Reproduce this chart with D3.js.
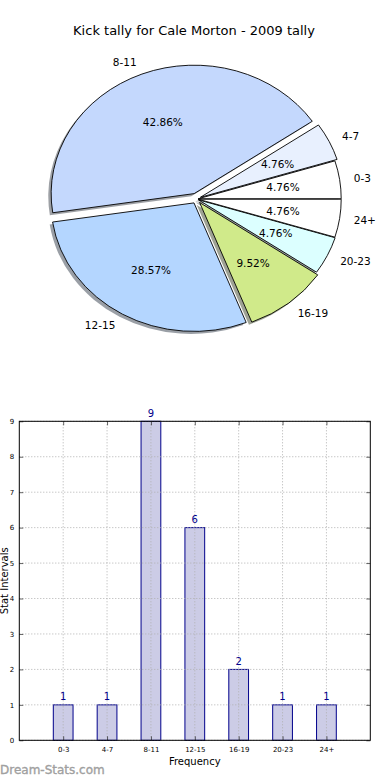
<!DOCTYPE html>
<html><head><meta charset="utf-8">
<script src="https://cdn.jsdelivr.net/npm/d3@7"></script>
<style>
html,body{margin:0;padding:0;background:#fff;}
svg{display:block;font-family:"DejaVu Sans",sans-serif;}
</style></head>
<body>
<svg id="c" width="390" height="780"></svg>
<script>
const title = "Kick tally for Cale Morton - 2009 tally";
const categories = ["0-3","4-7","8-11","12-15","16-19","20-23","24+"];
const values = [1,1,9,6,2,1,1];
const pieColors = ["#ffffff","#e8f0fe","#c4d8fd","#b4d6ff","#d0ea8a","#dcffff","#ffffff"];
const explode = [0.012,0.03,0.045,0.035,0.035,0.015,0.012];
const yTicks = [0,1,2,3,4,5,6,7,8,9];
const xLabel = "Frequency";
const yLabel = "Stat Intervals";
const watermark = "Dream-Stats.com";

const svg = d3.select("#c");

// ---------- Title ----------
svg.append("text").attr("x",194).attr("y",30).attr("text-anchor","middle")
  .attr("dominant-baseline","central").attr("font-size",13).attr("fill","#000").text(title);

// ---------- Pie ----------
const cx = 196.5, cy = 199, rx = 143, ry = 128.5;
const total = d3.sum(values);
const pie = d3.pie().sort(null).value(d=>d).startAngle(Math.PI/2).endAngle(Math.PI/2 - 2*Math.PI);
const arcs = pie(values);
const arcGen = d3.arc().innerRadius(0).outerRadius(1);
const pg = svg.append("g");

function off(a, k){ return [Math.sin(a)*k*rx, -Math.cos(a)*k*ry]; }

// shadows first
arcs.forEach((d,i)=>{
  const a = (d.startAngle + d.endAngle)/2;
  const o = off(a, explode[i]);
  const c = d3.rgb(pieColors[i]);
  const sc = d3.rgb(c.r*0.3, c.g*0.3, c.b*0.3);
  pg.append("path")
    .attr("transform",`translate(${cx+o[0]-0.02*rx},${cy+o[1]+0.02*ry}) scale(${rx},${ry})`)
    .attr("d", arcGen({startAngle:Math.min(d.startAngle,d.endAngle), endAngle:Math.max(d.startAngle,d.endAngle)}))
    .attr("fill", sc.toString()).attr("fill-opacity",0.5);
});
arcs.forEach((d,i)=>{
  const a = (d.startAngle + d.endAngle)/2;
  const o = off(a, explode[i]);
  pg.append("path")
    .attr("transform",`translate(${cx+o[0]},${cy+o[1]}) scale(${rx},${ry})`)
    .attr("d", arcGen({startAngle:Math.min(d.startAngle,d.endAngle), endAngle:Math.max(d.startAngle,d.endAngle)}))
    .attr("fill", pieColors[i]).attr("stroke","#000").attr("stroke-width",0.9)
    .attr("stroke-linejoin","round")
    .attr("vector-effect","non-scaling-stroke");
});
arcs.forEach((d,i)=>{
  const a = (d.startAngle + d.endAngle)/2;
  const lp = off(a, explode[i] + 1.1);
  const pp = off(a, explode[i] + 0.6);
  pg.append("text").attr("x",cx+lp[0]).attr("y",cy+lp[1])
    .attr("text-anchor", Math.sin(a) > 0 ? "start" : "end")
    .attr("dominant-baseline","central").attr("font-size",10.5).text(categories[i]);
  pg.append("text").attr("x",cx+pp[0]).attr("y",cy+pp[1])
    .attr("text-anchor","middle")
    .attr("dominant-baseline","central").attr("font-size",10.5)
    .text((values[i]/total*100).toFixed(2)+"%");
});

// ---------- Bar chart ----------
const L = 19.3, R = 370.3, T = 421.3, B = 740.3;
const x = d3.scaleLinear().domain([-1, categories.length]).range([L, R]);
const y = d3.scaleLinear().domain([0, 9]).range([B, T]);
const bw = 0.45;
const bg = svg.append("g");

bg.selectAll("rect.bar").data(values).join("rect").attr("class","bar")
  .attr("x",(d,i)=>x(i - bw/2)).attr("width",(d,i)=>x(i+bw/2)-x(i-bw/2))
  .attr("y",d=>y(d)).attr("height",d=>y(0)-y(d))
  .attr("fill","#cccce6").attr("stroke","#00008b").attr("stroke-width",1);

// grid
const grid = bg.append("g").attr("stroke","#b0b0b0").attr("stroke-width",1).attr("stroke-dasharray","1,2");
grid.selectAll("line.v").data(categories).join("line")
  .attr("x1",(d,i)=>x(i)).attr("x2",(d,i)=>x(i)).attr("y1",T).attr("y2",B);
grid.selectAll("line.h").data(yTicks).join("line")
  .attr("x1",L).attr("x2",R).attr("y1",d=>y(d)).attr("y2",d=>y(d));

// value labels
bg.selectAll("text.val").data(values).join("text").attr("class","val")
  .attr("x",(d,i)=>x(i)).attr("y",d=>y(d)-4.5)
  .attr("text-anchor","middle").attr("font-size",10).attr("fill","#00008b").text(d=>d);

// axes
const ax = bg.append("g");
ax.append("g").attr("transform",`translate(${L},0)`)
  .call(d3.axisLeft(y).tickValues(yTicks).tickSize(-4).tickPadding(5).tickFormat(d3.format("d")));
ax.append("g").attr("transform",`translate(${R},0)`)
  .call(d3.axisRight(y).tickValues(yTicks).tickSize(-4).tickFormat(""));
const xAxis = ax.append("g").attr("transform",`translate(0,${B})`)
  .call(d3.axisBottom(x).tickValues(d3.range(categories.length)).tickSize(-4).tickPadding(5).tickFormat(i=>categories[i]));
ax.append("g").attr("transform",`translate(0,${T})`)
  .call(d3.axisTop(x).tickValues(d3.range(categories.length)).tickSize(-4).tickFormat(""));
ax.selectAll(".domain").remove();
ax.selectAll(".tick line").attr("stroke","#000").attr("stroke-width",0.6);
ax.selectAll(".tick text").attr("font-size",7).attr("fill","#000").attr("font-family","DejaVu Sans");
xAxis.selectAll(".tick text").attr("dy","0.9em");
bg.append("rect").attr("x",L).attr("y",T).attr("width",R-L).attr("height",B-T)
  .attr("fill","none").attr("stroke","#000").attr("stroke-width",1);

svg.append("text").attr("x",(L+R)/2).attr("y",761).attr("text-anchor","middle")
  .attr("dominant-baseline","central").attr("font-size",10).text(xLabel);
svg.append("text").attr("transform",`translate(7.5,${(T+B)/2}) rotate(-90)`)
  .attr("text-anchor","middle").attr("font-size",10).text(yLabel);

svg.append("text").attr("x",0).attr("y",770).attr("dominant-baseline","central")
  .attr("font-size",12).attr("fill","#a0a0a0").attr("stroke","#a0a0a0").attr("stroke-width",0.35)
  .text(watermark);
</script>
</body></html>
